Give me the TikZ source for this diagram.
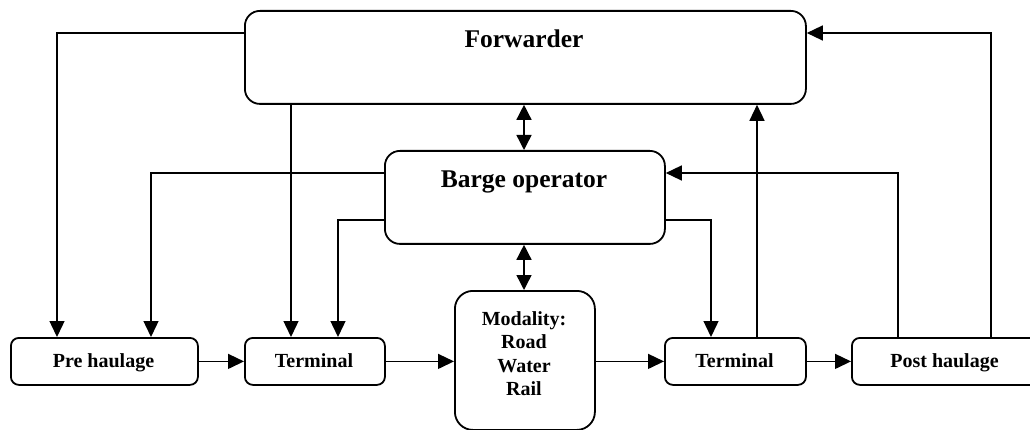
\documentclass[tikz,border=0pt]{standalone}
\usepackage{fontspec}
\setmainfont{Liberation Serif}
\usetikzlibrary{arrows.meta}
\begin{document}
\begin{tikzpicture}[x=1pt,y=-1pt,
  box/.style={draw,line width=1.8pt,rounded corners=8pt,inner sep=0pt,anchor=north west},
  lbl/.style={font=\fontsize{20}{23}\selectfont\bfseries,inner sep=0pt,anchor=base},
  biglbl/.style={font=\fontsize{25.5}{28}\selectfont\bfseries,inner sep=0pt,anchor=base},
  conn/.style={line width=1.4pt,-{Triangle[length=16pt,width=15pt]}},
  dconn/.style={line width=1.4pt,{Triangle[length=15pt,width=15pt]}-{Triangle[length=15pt,width=15pt]}},
]
\useasboundingbox (0,0) rectangle (1030,430);
% boxes
\node[box,rounded corners=15pt,minimum width=561pt,minimum height=93pt] (fw) at (244,10) {};
\node[box,rounded corners=15pt,minimum width=280pt,minimum height=93pt] (bo) at (384,150) {};
\node[box,rounded corners=18pt,minimum width=140pt,minimum height=139pt] (mod) at (454,290) {};
\node[box,minimum width=187pt,minimum height=47pt] (pre) at (10,337) {};
\node[box,minimum width=140pt,minimum height=47pt] (t1) at (244,337) {};
\node[box,minimum width=141pt,minimum height=47pt] (t2) at (664,337) {};
\node[box,minimum width=187pt,minimum height=47pt] (ph) at (851,337) {};
% labels
\node[biglbl] (fwl) at (524,48) {Forwarder};
\node[biglbl] (bol) at (524,188) {Barge operator};
\node[lbl] (m1) at (524,325) {Modality:};
\node[lbl] (m2) at (524,348.5) {Road};
\node[lbl] (m3) at (524,372) {Water};
\node[lbl] (m4) at (524,395.5) {Rail};
\node[lbl] (prel) at (103.5,367) {Pre haulage};
\node[lbl] (t1l) at (314,367) {Terminal};
\node[lbl] (t2l) at (734.5,367) {Terminal};
\node[lbl] (phl) at (944.5,367) {Post haulage};
% connectors
\draw[conn] (fw.west |- 0,33) -- (57,33) -- (57,0 |- pre.north);
\draw[conn] (291,0 |- fw.south) -- (291,0 |- t1.north);
\draw[conn] (bo.west |- 0,173) -- (151,173) -- (151,0 |- pre.north);
\draw[conn] (bo.west |- 0,220) -- (338,220) -- (338,0 |- t1.north);
\draw[conn] (bo.east |- 0,220) -- (711,220) -- (711,0 |- t2.north);
\draw[conn] (757,0 |- t2.north) -- (757,0 |- fw.south);
\draw[conn] (898,0 |- ph.north) -- (898,173) -- (bo.east |- 0,173);
\draw[conn] (991,0 |- ph.north) -- (991,33) -- (fw.east |- 0,33);
\draw[dconn] (524,0 |- fw.south) -- (524,0 |- bo.north);
\draw[dconn] (524,0 |- bo.south) -- (524,0 |- mod.north);
\draw[conn] (pre.east) -- (t1.west);
\draw[conn] (t1.east) -- (mod.west |- t1.east);
\draw[conn] (mod.east |- t2.west) -- (t2.west);
\draw[conn] (t2.east) -- (ph.west);
\end{tikzpicture}
\end{document}
